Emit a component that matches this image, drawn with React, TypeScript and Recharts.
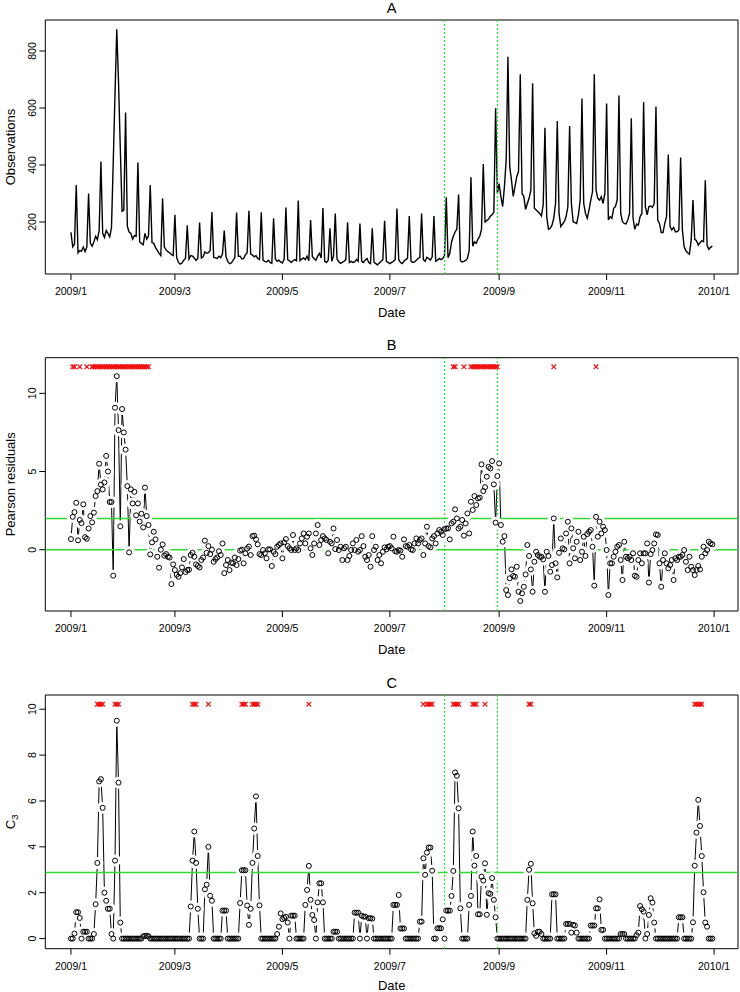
import React from 'react';
import { ComposedChart, Line, Scatter, XAxis, YAxis, ReferenceArea } from 'recharts';

// daily counts, 2009-01-01 .. 2009-12-31 (one row per week)
const observations = [
  164, 113, 122, 330, 92, 100, 98,
  112, 96, 112, 300, 125, 115, 130,
  150, 138, 170, 412, 160, 146, 170,
  160, 148, 180, 410, 650, 876, 690,
  460, 238, 242, 584, 185, 165, 160,
  140, 152, 150, 409, 130, 125, 120,
  160, 140, 150, 330, 128, 125, 110,
  100, 90, 82, 283, 112, 102, 96,
  92, 86, 82, 225, 75, 58, 52,
  56, 66, 72, 188, 70, 82, 80,
  74, 65, 72, 198, 74, 78, 95,
  90, 92, 100, 235, 76, 74, 72,
  80, 75, 88, 170, 78, 62, 54,
  56, 65, 75, 233, 80, 80, 70,
  72, 85, 92, 239, 88, 84, 78,
  82, 72, 68, 234, 66, 62, 60,
  66, 58, 55, 213, 70, 62, 66,
  60, 56, 70, 251, 68, 64, 58,
  64, 68, 64, 275, 64, 70, 74,
  68, 80, 64, 207, 78, 72, 66,
  80, 90, 74, 249, 62, 58, 66,
  178, 62, 80, 230, 70, 60, 55,
  58, 62, 68, 199, 58, 62, 58,
  60, 68, 62, 195, 62, 58, 66,
  72, 58, 54, 178, 58, 54, 50,
  56, 62, 68, 204, 62, 58, 54,
  58, 62, 68, 247, 68, 58, 54,
  62, 68, 72, 221, 62, 58, 60,
  66, 72, 76, 230, 68, 62, 76,
  72, 66, 78, 221, 62, 66, 72,
  68, 72, 82, 287, 75, 90, 130,
  150, 165, 175, 296, 65, 60, 62,
  65, 72, 100, 357, 115, 130, 125,
  140, 150, 175, 403, 200, 205, 210,
  220, 225, 235, 599, 300, 335, 289,
  254, 324, 417, 780, 394, 347, 290,
  324, 359, 377, 718, 300, 290, 244,
  265, 283, 312, 687, 248, 242, 236,
  230, 221, 260, 531, 219, 174, 178,
  189, 213, 265, 554, 230, 184, 193,
  201, 219, 254, 537, 265, 201, 198,
  195, 225, 277, 633, 265, 230, 213,
  242, 277, 306, 718, 312, 283, 277,
  289, 265, 300, 616, 207, 219, 213,
  248, 254, 277, 644, 230, 201, 195,
  193, 207, 230, 564, 213, 174, 193,
  189, 219, 230, 621, 254, 225, 254,
  256, 251, 265, 605, 207, 195, 163,
  163, 195, 219, 437, 184, 172, 181,
  166, 166, 172, 426, 172, 113, 99,
  92, 87, 137, 277, 139, 134, 119,
  127, 134, 131, 346, 119, 104, 111,
  116,
];

const pearsonResiduals = [
  0.68, 2.1, 2.4, 3.0, 0.6, 1.9, 1.7,
  2.9, 0.8, 0.7, 1.36, 2.15, 1.75, 2.37,
  3.43, 3.75, 5.5, 4.16, 3.86, 4.3, 6.0,
  5.0, 3.05, 3.05, -1.66, 9.08, 11.1, 7.65,
  1.5, 9.0, 7.5, 6.4, 4.07, -0.17, 3.86,
  2.96, 3.7, 2.2, 2.96, 1.8, 2.3, 1.43,
  3.97, 2.15, 1.58, -0.3, 0.47, 1.15, 0.66,
  -0.45, -1.15, 0.0, 0.34, -0.38, -0.28, -0.45,
  -0.5, -2.2, -0.94, -1.3, -1.6, -1.73, -1.5,
  -1.13, -0.6, -1.43, -1.3, -1.28, -0.34, -0.2,
  -0.45, -0.94, -1.04, -1.13, -0.66, -0.5, 0.58,
  -0.2, 0.23, -0.28, 0.0, -0.77, -0.6, -0.5,
  -0.1, -0.34, 0.4, -1.5, -0.98, -0.66, -1.3,
  -0.83, -0.87, -0.5, -0.98, -0.6, -0.06, 0.0,
  -0.87, -0.23, 0.08, 0.2, -0.34, 0.87, 0.9,
  0.66, 0.34, -0.28, -0.34, -0.02, -0.23, -0.55,
  0.02, 0.02, -1.04, -0.13, -0.28, 0.19, 0.3,
  0.4, -0.55, 0.47, 0.68, 0.23, 0.09, -0.02,
  0.94, -0.02, 0.09, -0.02, 0.4, 0.72, 1.04,
  0.4, 0.83, 1.04, 0.09, -0.34, 0.4, 1.04,
  1.58, 0.3, 0.62, 0.87, 0.72, 0.62, -0.23,
  0.51, 0.4, 1.36, 0.04, 0.62, -0.02, 0.19,
  -0.66, 0.09, 0.19, -0.66, -0.4, -0.02, 0.4,
  -0.02, 0.62, -0.13, -0.02, 0.87, 0.23, -0.45,
  -0.66, -0.34, -1.09, 0.87, -0.02, 0.19, -0.66,
  -0.34, -0.87, -0.13, 0.15, 0.02, 0.19, 0.23,
  0.09, 0.83, -0.09, -0.13, -0.02, -0.06, -0.45,
  0.66, 0.23, 0.19, 0.3, 0.02, -0.02, 0.4,
  0.72, 0.4, 0.62, 0.72, -0.34, 0.4, 1.47,
  0.23, 0.15, 0.72, 0.87, 0.4, 1.04, 1.26,
  1.15, 0.94, 1.32, 1.36, 1.36, 0.66, 1.68,
  1.79, 2.58, 2.0, 1.36, 1.47, 1.9, 0.9,
  1.68, 2.32, 1.04, 3.07, 2.54, 3.43, 2.86,
  3.28, 3.33, 5.46, 3.75, 4.0, 4.67, 5.3,
  5.2, 5.67, 4.18, 1.73, 4.71, 5.52, 1.58,
  0.51, 0.87, -2.58, -2.9, -1.83, -1.26, -1.68,
  -1.73, -1.09, -2.69, -3.28, -2.79, -2.37, -1.58,
  0.3, -0.4, -1.26, -2.69, -0.77, -0.13, -0.34,
  -0.45, -0.45, -0.62, -2.69, -0.13, -0.4, -1.41,
  -0.98, 2.0, -0.87, -1.77, -0.2, 0.72, 0.09,
  0.02, 1.04, 1.79, -0.87, 1.36, 0.09, -0.55,
  0.51, 1.15, -0.66, -0.13, 0.83, -0.4, 1.0,
  1.15, 1.26, 0.19, -2.3, 2.1, 0.83, 1.79,
  1.04, 1.47, 1.26, -0.02, -2.9, -0.87, -0.87,
  -0.45, -0.13, 0.19, 0.3, -0.66, -1.94, 0.51,
  -0.45, -0.55, -0.45, -0.66, -0.23, -1.66, -1.73,
  -0.66, -0.23, -0.87, -0.23, -0.23, 0.4, -2.1,
  -0.28, -0.02, 0.4, 0.98, 0.94, -0.87, -2.37,
  -0.66, -0.23, -0.87, -1.19, -0.98, -0.66, -1.94,
  -0.55, -0.66, -0.45, -0.45, -0.34, -0.02, -0.77,
  -1.3, -0.45, -1.09, -1.3, -1.62, -1.3, -1.04,
  -1.26, -0.45, 0.19, -0.23, -0.02, 0.51, 0.4,
  0.34,
];

const c3Values = [
  0, 0, 0.22, 1.15, 1.15, 0.9, 0,
  0.3, 0.3, 0.3, 0, 0, 0, 0.2,
  1.5, 3.3, 6.85, 6.95, 5.7, 2.0, 1.65,
  1.3, 1.3, 0.2, 0, 3.4, 9.5, 6.8,
  0.7, 0, 0, 0, 0, 0, 0,
  0, 0, 0, 0, 0, 0, 0.1,
  0.12, 0.12, 0.1, 0, 0, 0, 0,
  0, 0, 0, 0, 0, 0, 0,
  0, 0, 0, 0, 0, 0, 0,
  0, 0, 0, 0, 0, 1.4, 3.4,
  4.67, 3.3, 1.3, 0, 0, 0, 2.15,
  2.35, 4.0, 1.87, 1.65, 0, 0, 0,
  0, 0, 1.22, 1.22, 1.22, 0, 0,
  0, 0, 0, 0, 0, 1.55, 2.98,
  2.98, 2.98, 1.44, 0.6, 1.3, 3.3, 4.8,
  6.2, 3.6, 1.45, 0, 0, 0, 0,
  0, 0, 0, 0, 0, 0.2, 0.52,
  1.1, 0.85, 0.9, 0.95, 0.7, 0, 1.0,
  1.0, 1.0, 0, 0, 0, 0, 0,
  1.47, 2.12, 3.17, 1.69, 1.03, 0.81, 0,
  1.58, 2.41, 2.41, 1.58, 0, 0, 0,
  0, 0, 0.3, 0.3, 0.3, 0, 0,
  0, 0, 0, 0, 0, 0, 0,
  1.13, 1.13, 1.13, 0, 1.0, 0.96, 0.96,
  0, 0.89, 0.89, 0.87, 0, 0, 0,
  0, 0, 0, 0, 0, 0, 0,
  0, 1.47, 1.47, 1.47, 1.9, 0.44, 0.44,
  0.44, 0, 0, 0, 0, 0, 0,
  0, 0, 0.74, 0.74, 3.5, 2.78, 3.75,
  3.97, 3.97, 2.96, 0, 0, 0.45, 0.45,
  0.45, 0.84, 0, 1.22, 1.22, 1.22, 1.86,
  2.95, 7.24, 7.1, 5.68, 1.32, 0, 0,
  0, 0, 1.47, 1.86, 4.67, 3.18, 3.6,
  1.06, 1.06, 2.7, 2.53, 3.28, 1.04, 1.98,
  1.95, 2.64, 1.69, 0.93, 0, 0, 0,
  0, 0, 0, 0, 0, 0, 0,
  0, 0, 0, 0, 0, 0, 0,
  1.69, 3.0, 3.26, 1.54, 0.23, 0.12, 0.3,
  0.3, 0.2, 0, 0, 0, 0, 0,
  1.93, 1.93, 1.93, 0, 0, 0, 0,
  0, 0.64, 0.64, 0.64, 0.26, 0.6, 0.57,
  0.26, 0, 0, 0, 0, 0, 0,
  0, 0.57, 0.57, 0.57, 1.32, 1.32, 1.71,
  0.38, 0.38, 0, 0, 0, 0, 0,
  0, 0, 0, 0, 0.2, 0.2, 0.2,
  0, 0, 0, 0, 0, 0, 0.15,
  0.26, 1.42, 1.28, 1.18, 0, 0.2, 1.03,
  1.76, 1.57, 0.7, 0, 0, 0, 0,
  0, 0, 0, 0, 0, 0, 0,
  0, 0, 0.93, 0.93, 0.93, 0, 0,
  0, 0, 0, 0.71, 3.18, 4.62, 6.05,
  4.91, 3.6, 2.02, 0.7, 0.52, 0, 0,
  0,
];

const alarmDaysB = [
  1, 2, 5, 9,
  12, 13, 14, 15, 16, 17, 18, 19, 20, 21, 22, 23, 24, 25, 26, 27, 28,
  29, 30, 31, 32, 33, 34, 35, 36, 37, 38, 39, 40, 41, 42, 43, 44,
  217, 218, 223,
  227, 228, 229, 230, 231, 232, 233, 234, 235, 236, 237, 238, 239, 240, 241, 242,
  274, 298,
];
const alarmDaysC = [
  15, 16, 17, 18, 25, 26, 27, 69, 70, 71, 78, 97, 98, 99, 103, 104, 105, 106,
  135, 200, 202, 203, 204, 205, 217, 218, 219, 220, 228, 229, 230, 235,
  260, 261, 354, 355, 356, 357, 358,
];
const alarmLevelB = 11.7;
const alarmLevelC = 10.22;

const dateTickDays = [0, 59, 120, 181, 243, 304, 365];
const dateTickLabels = ['2009/1', '2009/3', '2009/5', '2009/7', '2009/9', '2009/11', '2010/1'];
const outbreakDays = [212, 242];
const residualRefs = [2, 0];
const c3Threshold = 2.88;

const ticksA = [200, 400, 600, 800];
const ticksB = [0, 5, 10];
const ticksC = [0, 2, 4, 6, 8, 10];

const seriesData = observations.map((obs, day) => ({
  day,
  obs,
  res: pearsonResiduals[day],
  c3: c3Values[day],
}));
const alarmDataB = alarmDaysB.map((day) => ({ day, level: alarmLevelB }));
const alarmDataC = alarmDaysC.map((day) => ({ day, level: alarmLevelC }));

const FONT = '"Liberation Sans", Arial, Helvetica, sans-serif';
const GREEN = '#2fdc2f';
const X_DOMAIN: [number, number] = [-14.56, 378.56];

function DateTick({ x, y, payload }: any) {
  const label = dateTickLabels[dateTickDays.indexOf(payload.value)];
  return (
    <text x={x} y={y + 14.8} textAnchor="middle" fontSize={10.5} fontFamily={FONT} fill="#000">
      {label}
    </text>
  );
}

function ValueTick({ x, y, payload }: any) {
  return (
    <text
      transform={`translate(${x - 3.3},${y}) rotate(-90)`}
      textAnchor="middle"
      fontSize={10.5}
      fontFamily={FONT}
      fill="#000"
    >
      {payload.value}
    </text>
  );
}

// type="b" look: white discs cut the joining line short of each point, then hollow rings on top
const maskDot = (p: any) => (
  <circle key={`m${p.index}`} cx={p.cx} cy={p.cy} r={6} fill="#fff" stroke="none" />
);
const ringDot = (p: any) => (
  <circle key={`r${p.index}`} cx={p.cx} cy={p.cy} r={2.5} fill="none" stroke="#000" strokeWidth={1} />
);

function AlarmMark(p: any) {
  const s = 2.3;
  return (
    <g>
      <line x1={p.cx - s} y1={p.cy - s} x2={p.cx + s} y2={p.cy + s} stroke="#f01010" strokeWidth={1.2} />
      <line x1={p.cx - s} y1={p.cy + s} x2={p.cx + s} y2={p.cy - s} stroke="#f01010" strokeWidth={1.2} />
    </g>
  );
}

function axes(yDomain: [number, number], yTicks: number[]) {
  return [
    <XAxis
      key="x"
      dataKey="day"
      type="number"
      domain={X_DOMAIN}
      ticks={dateTickDays}
      interval={0}
      tick={DateTick}
      tickSize={6}
      tickMargin={0}
      height={30}
      axisLine={false}
      tickLine={{ stroke: '#000' }}
      allowDataOverflow
    />,
    <YAxis
      key="y"
      type="number"
      domain={yDomain}
      ticks={yTicks}
      interval={0}
      tick={ValueTick}
      tickSize={6}
      tickMargin={0}
      width={20}
      axisLine={false}
      tickLine={{ stroke: '#000' }}
      allowDataOverflow
    />,
  ];
}

function frame(yDomain: [number, number]) {
  return (
    <ReferenceArea
      x1={X_DOMAIN[0]}
      x2={X_DOMAIN[1]}
      y1={yDomain[0]}
      y2={yDomain[1]}
      fill="none"
      fillOpacity={0}
      stroke="#000"
      strokeWidth={1}
      ifOverflow="visible"
    />
  );
}

// green guide lines drawn as two-point series so they sit above the point layers
function outbreakLines(yDomain: [number, number]) {
  return outbreakDays.map((d) => (
    <Line
      key={`v${d}`}
      data={[{ day: d, v: yDomain[0] }, { day: d, v: yDomain[1] }]}
      dataKey="v"
      stroke={GREEN}
      strokeWidth={1.3}
      strokeDasharray="2 2"
      dot={false}
      activeDot={false}
      isAnimationActive={false}
    />
  ));
}

function levelLine(level: number) {
  return (
    <Line
      key={`h${level}`}
      data={[{ day: X_DOMAIN[0], v: level }, { day: X_DOMAIN[1], v: level }]}
      dataKey="v"
      stroke={GREEN}
      strokeWidth={1.6}
      dot={false}
      activeDot={false}
      isAnimationActive={false}
    />
  );
}

function PanelA() {
  const yDomain: [number, number] = [17.5, 908.8];
  return (
    <ComposedChart width={740} height={330} data={seriesData} margin={{ top: 20, right: 2, bottom: 26, left: 25.3 }}>
      {axes(yDomain, ticksA)}
      <Line dataKey="obs" type="linear" stroke="#000" strokeWidth={1.4} dot={false} activeDot={false} isAnimationActive={false} />
      {outbreakLines(yDomain)}
      {frame(yDomain)}
    </ComposedChart>
  );
}

function PanelB() {
  const yDomain: [number, number] = [-3.92, 12.28];
  return (
    <ComposedChart width={740} height={330} data={seriesData} margin={{ top: 27.7, right: 2, bottom: 19, left: 25.3 }}>
      {axes(yDomain, ticksB)}
      <Line dataKey="res" type="linear" stroke="#000" strokeWidth={1} dot={false} activeDot={false} isAnimationActive={false} />
      <Line dataKey="res" type="linear" stroke="none" dot={maskDot} activeDot={false} isAnimationActive={false} />
      <Line dataKey="res" type="linear" stroke="none" dot={ringDot} activeDot={false} isAnimationActive={false} />
      {residualRefs.map((v) => levelLine(v))}
      {outbreakLines(yDomain)}
      <Scatter data={alarmDataB} dataKey="level" shape={AlarmMark} isAnimationActive={false} />
      {frame(yDomain)}
    </ComposedChart>
  );
}

function PanelC() {
  const yDomain: [number, number] = [-0.44, 10.62];
  return (
    <ComposedChart width={740} height={332} data={seriesData} margin={{ top: 35, right: 2, bottom: 13.3, left: 25.3 }}>
      {axes(yDomain, ticksC)}
      <Line dataKey="c3" type="linear" stroke="#000" strokeWidth={1} dot={false} activeDot={false} isAnimationActive={false} />
      <Line dataKey="c3" type="linear" stroke="none" dot={maskDot} activeDot={false} isAnimationActive={false} />
      <Line dataKey="c3" type="linear" stroke="none" dot={ringDot} activeDot={false} isAnimationActive={false} />
      {levelLine(c3Threshold)}
      {outbreakLines(yDomain)}
      <Scatter data={alarmDataC} dataKey="level" shape={AlarmMark} isAnimationActive={false} />
      {frame(yDomain)}
    </ComposedChart>
  );
}

export default function App() {
  const cx = 391.7;
  return (
    <div style={{ position: 'absolute', left: 0, top: 0, width: 740, height: 992, background: '#fff', fontFamily: FONT }}>
      <div style={{ position: 'absolute', left: 0, top: 0 }}>
        <PanelA />
      </div>
      <div style={{ position: 'absolute', left: 0, top: 330 }}>
        <PanelB />
      </div>
      <div style={{ position: 'absolute', left: 0, top: 660 }}>
        <PanelC />
      </div>
      <svg width={740} height={992} style={{ position: 'absolute', left: 0, top: 0, pointerEvents: 'none' }} fontFamily={FONT} fill="#000">
        <text x={cx} y={13.3} textAnchor="middle" fontSize={14.5}>A</text>
        <text x={cx} y={350} textAnchor="middle" fontSize={14.5}>B</text>
        <text x={cx} y={688} textAnchor="middle" fontSize={14.5}>C</text>
        <text x={cx} y={316.7} textAnchor="middle" fontSize={13}>Date</text>
        <text x={cx} y={654} textAnchor="middle" fontSize={13}>Date</text>
        <text x={cx} y={990} textAnchor="middle" fontSize={13}>Date</text>
        <text transform="translate(15,147) rotate(-90)" textAnchor="middle" fontSize={13}>Observations</text>
        <text transform="translate(15,484.3) rotate(-90)" textAnchor="middle" fontSize={13}>Pearson residuals</text>
        <text transform="translate(15,821.8) rotate(-90)" textAnchor="middle" fontSize={13}>
          C<tspan fontSize={9.5} dy={3}>3</tspan>
        </text>
      </svg>
    </div>
  );
}
